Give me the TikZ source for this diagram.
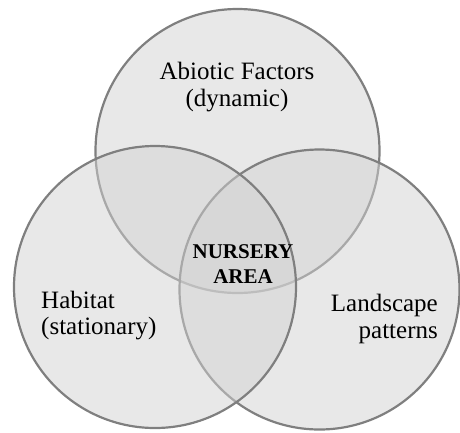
\documentclass[tikz,border=0pt]{standalone}
\usepackage{fontspec}
\setmainfont{Liberation Serif}
\definecolor{vennfill}{HTML}{D2D2D2}
\definecolor{vennline}{HTML}{7F7F7F}

\begin{document}
\begin{tikzpicture}[
    x=1pt, y=-1pt,
    venn/.style={circle, draw=vennline, line width=2.2pt, fill=vennfill, fill opacity=0.5, inner sep=0pt, outer sep=0pt},
    circletext/.style={font=\fontsize{25}{26.5}\selectfont, inner sep=0pt},
    coretext/.style={font=\fontsize{21}{25}\selectfont\bfseries, align=center, inner sep=0pt}
]
\useasboundingbox (0,0) rectangle (460,432);

% === Circles (drawn top, right, left) ===
\node[venn, minimum size=284pt] (abiotic) at (237.5, 151) {};
\node[venn, minimum size=280pt] (landscape) at (319.5, 289.5) {};
\node[venn, minimum size=282pt] (habitat) at (155, 287) {};

% === Labels ===
\node[circletext, align=center] (abiotictext) at (237, 87) {Abiotic Factors\\(dynamic)};
\node[circletext, align=left, anchor=west] (habitattext) at (41, 315.5) {Habitat\\(stationary)};
\node[circletext, align=right, anchor=east] (landscapetext) at (438, 319) {Landscape\\patterns};
\node[coretext] (nursery) at (243, 264) {NURSERY\\AREA};

\end{tikzpicture}
\end{document}
